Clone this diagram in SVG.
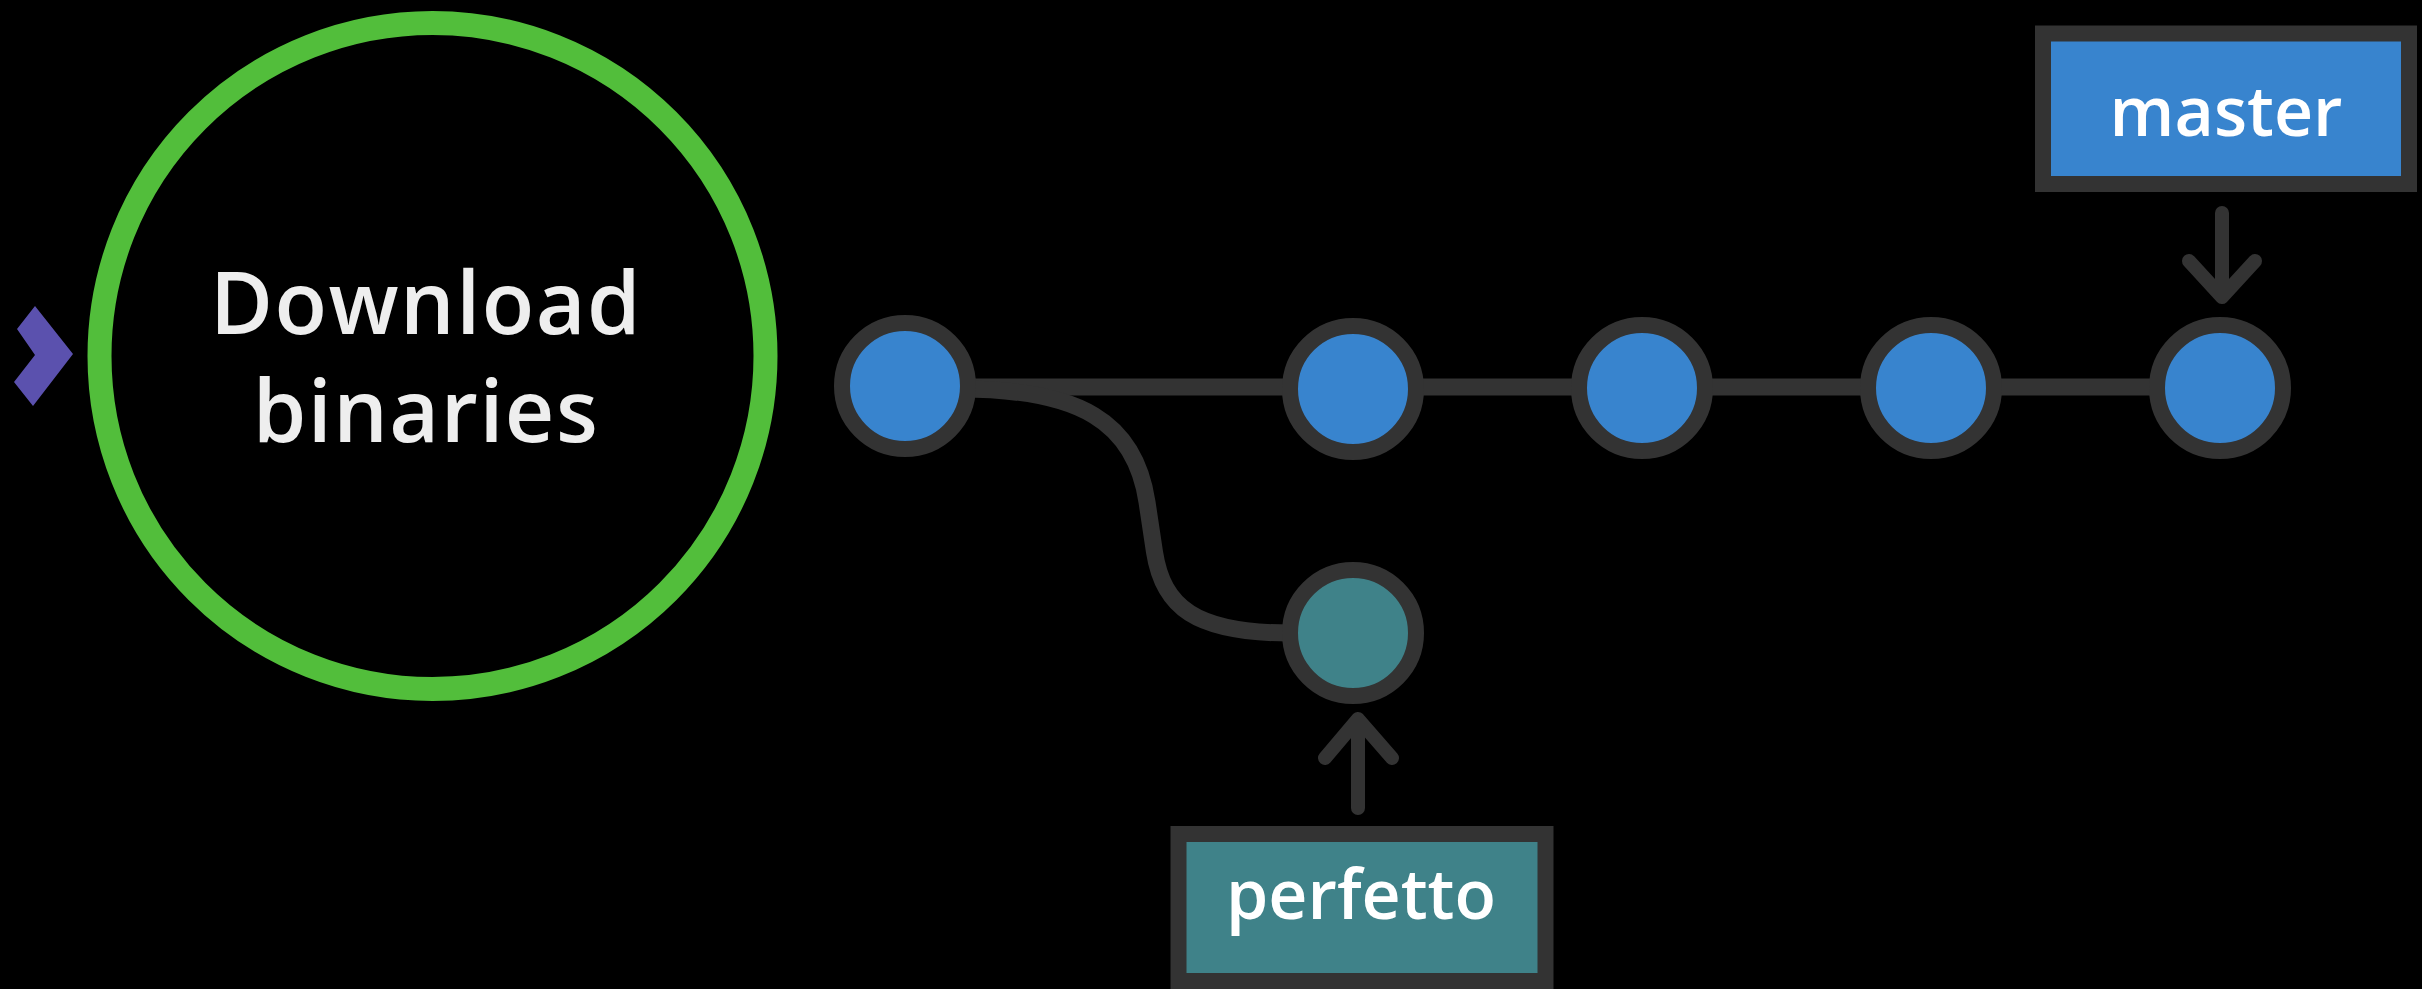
<svg xmlns="http://www.w3.org/2000/svg" width="2422" height="989" viewBox="0 0 2422 989">
  <style>
    .commit { stroke: #333333; stroke-width: 16; }
    .blue { fill: #3884CE; }
    .teal { fill: #3F8289; }
    .edge { fill: none; stroke: #333333; stroke-width: 17; }
    .arrow { fill: none; stroke: #333333; stroke-width: 14; stroke-linecap: round; stroke-linejoin: round; }
    .label { stroke: #333333; stroke-width: 16; }
    .lbltext { font-family: "Open Sans", "Liberation Sans", sans-serif; font-weight: 600; font-size: 68px; fill: #FFFFFF; text-anchor: middle; }
    .steptext { font-family: "Open Sans", "Liberation Sans", sans-serif; font-weight: 600; font-size: 86px; fill: #EEEEEE; text-anchor: middle; letter-spacing: 1.5px; }
  </style>
  <rect width="2422" height="989" fill="#000000"/>

  <g id="step-marker">
    <polygon points="35,306 73,354 33,406 14,382 35,355 17,329" fill="#5B51AE"/>
  </g>

  <g id="download-binaries">
    <circle cx="432.5" cy="356" r="333" fill="none" stroke="#52BE3B" stroke-width="24"/>
    <text class="steptext" x="426" y="334">Download</text>
    <text class="steptext" x="426" y="442">binaries</text>
  </g>

  <g id="connectors">
    <line class="edge" x1="905" y1="387" x2="2220" y2="387"/>
    <path class="edge" d="M 960 389 C 1080 389 1135 422 1147 502 L 1154.5 552 C 1163 607 1195 633 1290 633"/>
    <path class="arrow" d="M 2222 213 L 2222 297 M 2189 261 L 2222 297 L 2255 261"/>
    <path class="arrow" d="M 1358 808 L 1358 719 M 1325 758 L 1358 719 L 1392 758"/>
  </g>

  <g id="commit-1"><circle class="commit blue" cx="905" cy="386" r="63"/></g>
  <g id="commit-2"><circle class="commit blue" cx="1353" cy="389" r="63"/></g>
  <g id="commit-3"><circle class="commit blue" cx="1642" cy="388" r="63"/></g>
  <g id="commit-4"><circle class="commit blue" cx="1931" cy="388" r="63"/></g>
  <g id="commit-5"><circle class="commit blue" cx="2220" cy="388" r="63"/></g>
  <g id="commit-perfetto"><circle class="commit teal" cx="1353" cy="633" r="63"/></g>

  <g id="label-master">
    <rect class="label blue" x="2043" y="33.5" width="366" height="150.5"/>
    <text class="lbltext" x="2226" y="136">master</text>
  </g>

  <g id="label-perfetto">
    <rect class="label teal" x="1178.5" y="834" width="367" height="147"/>
    <text class="lbltext" x="1361" y="919">perfetto</text>
  </g>
</svg>
